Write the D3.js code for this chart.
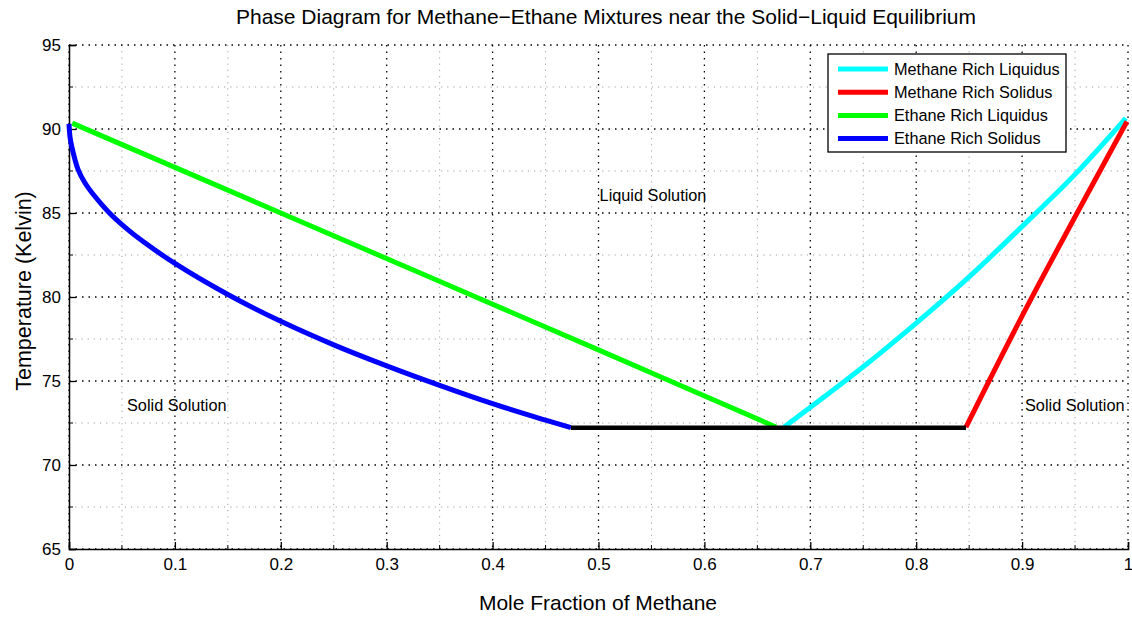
<!DOCTYPE html>
<html>
<head>
<meta charset="utf-8">
<script src="https://cdn.jsdelivr.net/npm/d3@7"></script>
<style>
  body { margin: 0; background: #fff; }
  text { font-family: "Liberation Sans", Arial, sans-serif; fill: #000; }
</style>
</head>
<body>
<svg id="chart" width="1132" height="617"></svg>
<script>
// datos (fraccion molar de metano, temperatura K)
const methaneLiquidus = [[0.675, 72.25], [0.75, 75.85], [0.8, 78.45], [0.85, 81.2], [0.9, 84.2], [0.95, 87.3], [0.998, 90.65]];
const methaneSolidus = [[0.847, 72.25], [0.904, 79.35], [0.999, 90.45]];
const ethaneLiquidus = [[0.003, 90.35], [0.2, 85.0], [0.5, 76.85], [0.668, 72.25]];
const ethaneSolidus = [[0, 90.3], [0.001, 89.5], [0.003, 88.85], [0.0085, 87.6], [0.015, 86.8], [0.023, 86.1], [0.0375, 85.05],
  [0.053, 84.15], [0.07, 83.3], [0.1, 82.0], [0.15, 80.15], [0.2, 78.55], [0.25, 77.15], [0.3, 75.9], [0.35, 74.74],
  [0.4, 73.65], [0.45, 72.67], [0.474, 72.22]];
const eutectic = [[0.474, 72.22], [0.847, 72.22]];

const xTicks = [0, 0.1, 0.2, 0.3, 0.4, 0.5, 0.6, 0.7, 0.8, 0.9, 1];
const xMinor = [0.05, 0.15, 0.25, 0.35, 0.45, 0.55, 0.65, 0.75, 0.85, 0.95];
const yTicks = [65, 70, 75, 80, 85, 90, 95];
const yMinor = [67.5, 72.5, 77.5, 82.5, 87.5, 92.5];

const series = [
  { name: "Methane Rich Liquidus", color: "#00ffff", data: methaneLiquidus },
  { name: "Methane Rich Solidus", color: "#ff0000", data: methaneSolidus },
  { name: "Ethane Rich Liquidus", color: "#00ff00", data: ethaneLiquidus },
  { name: "Ethane Rich Solidus", color: "#0000ff", data: ethaneSolidus }
];

const svg = d3.select("#chart");
const mLeft = 69, mRight = 1128, mTop = 45, mBottom = 549;

const x = d3.scaleLinear().domain([0, 1]).range([mLeft, mRight]);
const y = d3.scaleLinear().domain([65, 95]).range([mBottom, mTop]);

const grid = svg.append("g");
// rejilla menor (gris)
grid.selectAll(".vminor").data(xMinor).join("line")
  .attr("x1", d => x(d)).attr("x2", d => x(d)).attr("y1", mTop).attr("y2", mBottom)
  .attr("stroke", "#a0a0a0").attr("stroke-width", 1).attr("stroke-dasharray", "1.2,5");
grid.selectAll(".hminor").data(yMinor).join("line")
  .attr("x1", mLeft).attr("x2", mRight).attr("y1", d => y(d)).attr("y2", d => y(d))
  .attr("stroke", "#a0a0a0").attr("stroke-width", 1).attr("stroke-dasharray", "1.2,5");
// rejilla mayor (negro)
grid.selectAll(".vmajor").data(xTicks).join("line")
  .attr("x1", d => x(d)).attr("x2", d => x(d)).attr("y1", mTop).attr("y2", mBottom)
  .attr("stroke", "#000").attr("stroke-width", 1.3).attr("stroke-dasharray", "1.5,5");
grid.selectAll(".hmajor").data(yTicks).join("line")
  .attr("x1", mLeft).attr("x2", mRight).attr("y1", d => y(d)).attr("y2", d => y(d))
  .attr("stroke", "#000").attr("stroke-width", 1.3).attr("stroke-dasharray", "1.5,5");

// ejes
const xAxis = d3.axisBottom(x).tickValues(xTicks).tickFormat(d3.format("~g")).tickSize(-7).tickPadding(9);
const yAxis = d3.axisLeft(y).tickValues(yTicks).tickSize(-7).tickPadding(8);

const gx = svg.append("g").attr("transform", `translate(0,${mBottom})`).call(xAxis);
const gy = svg.append("g").attr("transform", `translate(${mLeft},0)`).call(yAxis);
[gx, gy].forEach(g => {
  g.select(".domain").attr("stroke", "#000").attr("stroke-width", 1.5);
  g.selectAll(".tick line").attr("stroke", "#000").attr("stroke-width", 1.3);
  g.selectAll(".tick text").attr("font-size", 17).attr("font-family", "Liberation Sans, Arial, sans-serif");
});
gx.selectAll(".minor").data(xMinor).join("line").attr("class", "minor")
  .attr("x1", d => x(d)).attr("x2", d => x(d)).attr("y1", 0).attr("y2", -4)
  .attr("stroke", "#000").attr("stroke-width", 1);
gy.selectAll(".minor").data(yMinor).join("line").attr("class", "minor")
  .attr("y1", d => y(d)).attr("y2", d => y(d)).attr("x1", 0).attr("x2", 4)
  .attr("stroke", "#000").attr("stroke-width", 1);

// curvas
const line = d3.line().x(d => x(d[0])).y(d => y(d[1])).curve(d3.curveCatmullRom.alpha(0.5));
const plot = svg.append("g");
series.forEach(s => {
  plot.append("path").datum(s.data).attr("d", line)
    .attr("fill", "none").attr("stroke", s.color).attr("stroke-width", 5);
});
plot.append("path").datum(eutectic).attr("d", line)
  .attr("fill", "none").attr("stroke", "#000").attr("stroke-width", 4.5);

// textos de regiones
svg.append("text").attr("x", 653).attr("y", 201).attr("text-anchor", "middle").attr("font-size", 16.3).text("Liquid Solution");
svg.append("text").attr("x", 127).attr("y", 411).attr("font-size", 16.3).text("Solid Solution");
svg.append("text").attr("x", 1025).attr("y", 411).attr("font-size", 16.3).text("Solid Solution");

// titulo y etiquetas
svg.append("text").attr("x", 606).attr("y", 24).attr("text-anchor", "middle").attr("font-size", 21)
  .text("Phase Diagram for Methane\u2212Ethane Mixtures near the Solid\u2212Liquid Equilibrium");
svg.append("text").attr("x", 598).attr("y", 610).attr("text-anchor", "middle").attr("font-size", 21)
  .text("Mole Fraction of Methane");
svg.append("text").attr("transform", "translate(31,291) rotate(-90)").attr("text-anchor", "middle").attr("font-size", 21.5)
  .text("Temperature (Kelvin)");

// leyenda
const legend = svg.append("g").attr("transform", "translate(828,54)");
legend.append("rect").attr("width", 238).attr("height", 98)
  .attr("fill", "#fff").attr("stroke", "#000").attr("stroke-width", 1.3);
series.forEach((s, i) => {
  const yy = 15 + i * 23.2;
  legend.append("line").attr("x1", 10).attr("x2", 60).attr("y1", yy).attr("y2", yy)
    .attr("stroke", s.color).attr("stroke-width", 5);
  legend.append("text").attr("x", 66).attr("y", yy).attr("dy", "0.35em").attr("font-size", 16.3).text(s.name);
});
</script>
</body>
</html>
